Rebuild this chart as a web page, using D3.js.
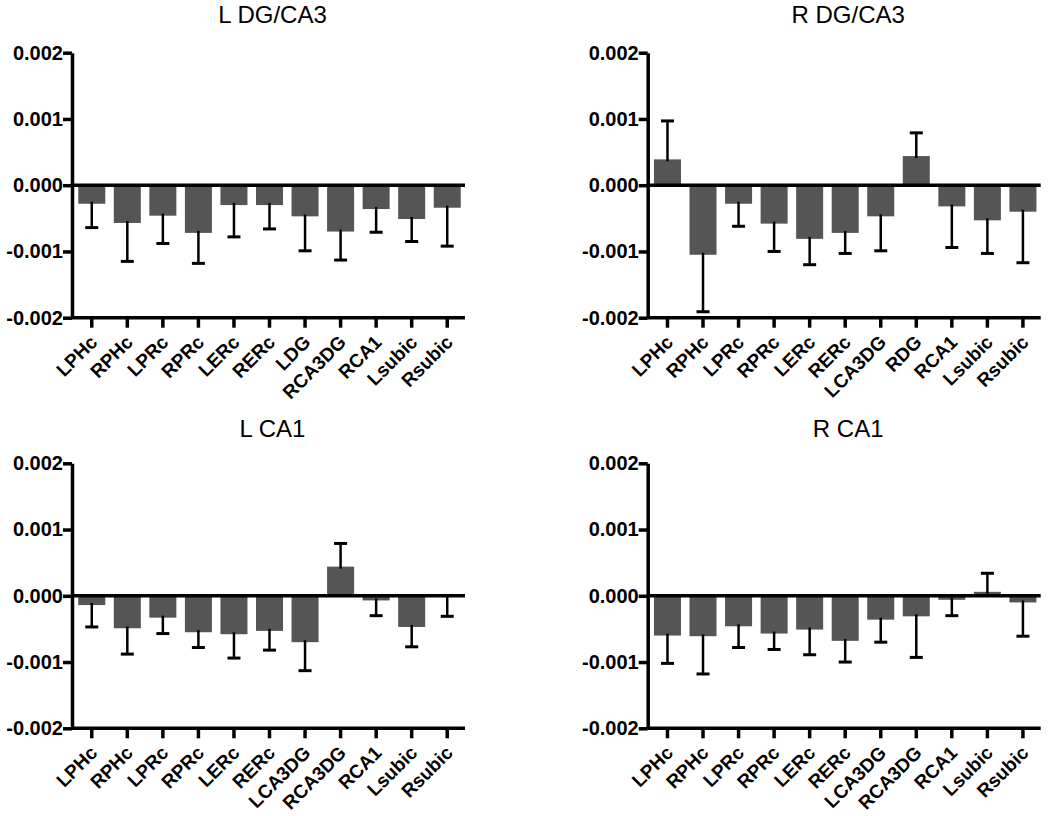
<!DOCTYPE html>
<html>
<head>
<meta charset="utf-8">
<script src="https://cdn.jsdelivr.net/npm/d3@7"></script>
<style>
  body { margin: 0; background: #fff; }
  text { font-family: "Liberation Sans", Arial, sans-serif; }
</style>
</head>
<body>
<script>
// panel titles
const titles = ['L DG/CA3', 'R DG/CA3', 'L CA1', 'R CA1'];

// categories for each panel
const labelsLDG = ['LPHc', 'RPHc', 'LPRc', 'RPRc', 'LERc', 'RERc', 'LDG', 'RCA3DG', 'RCA1', 'Lsubic', 'Rsubic'];
const labelsRDG = ['LPHc', 'RPHc', 'LPRc', 'RPRc', 'LERc', 'RERc', 'LCA3DG', 'RDG', 'RCA1', 'Lsubic', 'Rsubic'];
const labelsLCA1 = ['LPHc', 'RPHc', 'LPRc', 'RPRc', 'LERc', 'RERc', 'LCA3DG', 'RCA3DG', 'RCA1', 'Lsubic', 'Rsubic'];
const labelsRCA1 = ['LPHc', 'RPHc', 'LPRc', 'RPRc', 'LERc', 'RERc', 'LCA3DG', 'RCA3DG', 'RCA1', 'Lsubic', 'Rsubic'];

// means
const meanLDG = [-0.00028, -0.00057, -0.00046, -0.00072, -0.00030, -0.00030, -0.00047, -0.00070, -0.00036, -0.00051, -0.00034];
const meanRDG = [0.00039, -0.00105, -0.00028, -0.00058, -0.00081, -0.00072, -0.00047, 0.00044, -0.00032, -0.00053, -0.00040];
const meanLCA1 = [-0.00014, -0.00049, -0.00033, -0.00055, -0.00058, -0.00053, -0.00070, 0.00044, -0.00007, -0.00047, -0.00001];
const meanRCA1 = [-0.00060, -0.00061, -0.00046, -0.00057, -0.00051, -0.00068, -0.00036, -0.00031, -0.00006, 0.00006, -0.00010];

// error bars (one sided, away from zero)
const errLDG = [0.00036, 0.00058, 0.00042, 0.00046, 0.00048, 0.00036, 0.00052, 0.00043, 0.00035, 0.00034, 0.00058];
const errRDG = [0.00058, 0.00086, 0.00034, 0.00042, 0.00039, 0.00031, 0.00052, 0.00035, 0.00062, 0.00050, 0.00077];
const errLCA1 = [0.00033, 0.00039, 0.00024, 0.00023, 0.00036, 0.00029, 0.00043, 0.00035, 0.00023, 0.00030, 0.00030];
const errRCA1 = [0.00042, 0.00057, 0.00032, 0.00024, 0.00038, 0.00032, 0.00034, 0.00062, 0.00024, 0.00028, 0.00051];

const yTicks = [-0.002, -0.001, 0, 0.001, 0.002];

const panels = [
  {title: titles[0], labels: labelsLDG, mean: meanLDG, err: errLDG, left: 72, top: 52.7, titleY: 23},
  {title: titles[1], labels: labelsRDG, mean: meanRDG, err: errRDG, left: 647.7, top: 52.7, titleY: 23},
  {title: titles[2], labels: labelsLCA1, mean: meanLCA1, err: errLCA1, left: 72, top: 463.3, titleY: 437},
  {title: titles[3], labels: labelsRCA1, mean: meanRCA1, err: errRCA1, left: 647.7, top: 463.3, titleY: 437}
];

const width = 393;
const height = 265;

let svg = d3.select('body')
  .append('svg')
  .attr('width', 1050)
  .attr('height', 816);

svg.append('rect').attr('width', 1050).attr('height', 816).attr('fill', '#fff');

panels.forEach(p => {
  let g = svg.append('g')
    .attr('transform', 'translate(' + p.left + ',' + p.top + ')');

  let x = d3.scaleBand().domain(p.labels).range([2, width]).paddingInner(0.24).paddingOuter(0.12);
  let y = d3.scaleLinear().domain([-0.002, 0.002]).range([height, 0]);

  let data = p.labels.map((l, i) => ({label: l, mean: p.mean[i], err: p.err[i]}));

  // title
  svg.append('text')
    .attr('x', p.left + width / 2 + 4)
    .attr('y', p.titleY)
    .attr('text-anchor', 'middle')
    .style('font-size', '24px')
    .text(p.title);

  // bars
  g.selectAll('rect.bar')
    .data(data)
    .enter()
    .append('rect')
    .attr('class', 'bar')
    .attr('x', d => x(d.label))
    .attr('width', x.bandwidth())
    .attr('y', d => y(Math.max(0, d.mean)))
    .attr('height', d => Math.abs(y(d.mean) - y(0)))
    .attr('fill', '#555555');

  // error bars
  let eb = g.selectAll('g.err')
    .data(data)
    .enter()
    .append('g')
    .attr('class', 'err');

  eb.append('line')
    .attr('x1', d => x(d.label) + x.bandwidth() / 2)
    .attr('x2', d => x(d.label) + x.bandwidth() / 2)
    .attr('y1', d => y(d.mean) + (d.mean < 0 ? -2 : 2))
    .attr('y2', d => y(d.mean + (d.mean < 0 ? -d.err : d.err)))
    .attr('stroke', '#000')
    .attr('stroke-width', 2.5);

  eb.append('line')
    .attr('x1', d => x(d.label) + x.bandwidth() / 2 - 6.5)
    .attr('x2', d => x(d.label) + x.bandwidth() / 2 + 6.5)
    .attr('y1', d => y(d.mean + (d.mean < 0 ? -d.err : d.err)))
    .attr('y2', d => y(d.mean + (d.mean < 0 ? -d.err : d.err)))
    .attr('stroke', '#000')
    .attr('stroke-width', 3);

  // zero line
  g.append('line')
    .attr('x1', 0)
    .attr('x2', width)
    .attr('y1', y(0))
    .attr('y2', y(0))
    .attr('stroke', '#000')
    .attr('stroke-width', 3.5);

  // y axis
  let yAxis = g.append('g')
    .call(d3.axisLeft(y)
      .tickValues(yTicks)
      .tickSize(9)
      .tickSizeOuter(0)
      .tickPadding(0)
      .tickFormat(d => d.toFixed(3)));

  // x axis
  let xAxis = g.append('g')
    .attr('transform', 'translate(0,' + height + ')')
    .call(d3.axisBottom(x).tickSize(10).tickSizeOuter(0));

  xAxis.select('.domain').attr('d', 'M0,0H' + width);

  [xAxis, yAxis].forEach(a => {
    a.selectAll('path, line').attr('stroke', '#000').attr('stroke-width', 3.5);
    a.selectAll('text')
      .attr('fill', '#000')
      .style('font-size', '20px')
      .style('font-weight', 'bold')
      .style('font-family', '"Liberation Sans", Arial, sans-serif');
  });

  xAxis.selectAll('text')
    .attr('x', 0)
    .attr('y', 0)
    .attr('dy', '0.35em')
    .attr('text-anchor', 'end')
    .style('font-size', '19px')
    .attr('transform', 'translate(2,21) rotate(-45)');
});
</script>
</body>
</html>
